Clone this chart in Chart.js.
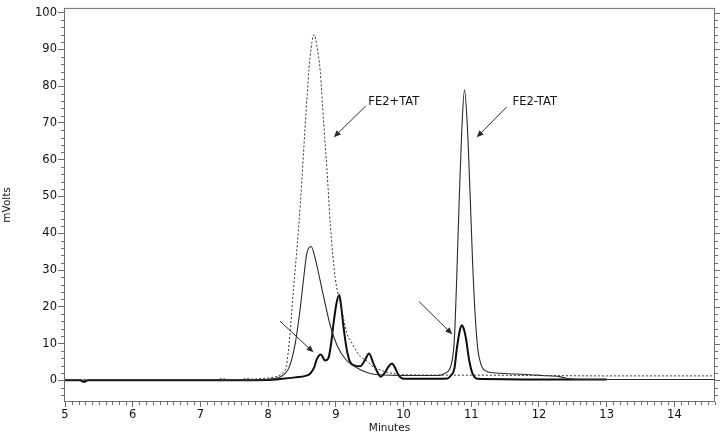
<!DOCTYPE html>
<html>
<head>
<meta charset="utf-8">
<script src="https://cdn.jsdelivr.net/npm/chart.js@4.4.1/dist/chart.umd.min.js"></script>
<style>
  html, body { margin: 0; padding: 0; background: #fff; }
  #wrap { width: 720px; height: 435px; }
</style>
</head>
<body>
<div id="wrap"><canvas id="chromChart" width="720" height="435"></canvas></div>
<script>
// Tick labels of the axes
const xTicks = [5, 6, 7, 8, 9, 10, 11, 12, 13, 14];
const yTicks = [0, 10, 20, 30, 40, 50, 60, 70, 80, 90, 100];

// FE2+TAT (dotted trace)
const timeDotted = [4.98, 6.0, 7.0, 7.25, 7.32, 7.4, 7.6, 7.68, 7.76, 7.9, 8.0, 8.1, 8.2, 8.27, 8.32, 8.37, 8.45, 8.5, 8.56, 8.62, 8.68, 8.72, 8.77, 8.82, 8.87, 8.92, 8.99, 9.09, 9.16, 9.24, 9.36, 9.44, 9.56, 9.63, 9.8, 10.05, 11.0, 12.0, 13.0, 14.6];
const valDotted = [0.2, 0.2, 0.2, 0.2, 0.5, 0.2, 0.2, 0.5, 0.3, 0.5, 0.6, 0.9, 1.8, 4, 12, 23.7, 41.5, 55, 73, 88, 94, 91, 84, 70, 57, 42, 28, 19, 13, 10, 6.5, 5.5, 3.5, 3, 2, 1.5, 1.4, 1.3, 1.2, 1.2];

// FE2-TAT (thin solid trace)
const timeThin = [4.98, 6.0, 7.0, 7.9, 8.0, 8.1, 8.25, 8.32, 8.4, 8.47, 8.52, 8.57, 8.635, 8.69, 8.77, 8.84, 8.92, 9.02, 9.14, 9.34, 9.63, 10.05, 10.5, 10.6, 10.7, 10.75, 10.78, 10.82, 10.86, 10.9, 10.94, 10.98, 11.02, 11.06, 11.1, 11.15, 11.2, 11.35, 11.55, 11.8, 12.05, 12.3, 12.45, 12.6, 14.6];
const valThin = [0, 0, 0, 0.1, 0.3, 0.5, 1.8, 4, 10, 19, 27, 34.4, 36.4, 33.5, 27, 21, 14.7, 9.4, 5.8, 3.1, 1.5, 1.3, 1.3, 1.8, 4, 11, 25, 48, 68, 79, 70, 52, 32, 17, 8, 4, 2.7, 2.0, 1.8, 1.6, 1.3, 1.0, 0.4, 0.2, 0.2];

// Sample (thick solid trace)
const timeThick = [4.98, 5.22, 5.28, 5.34, 6.0, 7.0, 8.0, 8.2, 8.4, 8.55, 8.62, 8.68, 8.72, 8.78, 8.84, 8.89, 8.93, 8.97, 9.01, 9.05, 9.08, 9.11, 9.16, 9.21, 9.28, 9.36, 9.43, 9.49, 9.56, 9.62, 9.66, 9.72, 9.78, 9.83, 9.88, 9.93, 10.0, 10.3, 10.65, 10.7, 10.75, 10.79, 10.83, 10.86, 10.89, 10.92, 10.97, 11.02, 11.09, 11.5, 12.0, 12.5, 13.0];
const valThick = [0, 0, -0.4, 0, 0, 0, 0.1, 0.4, 0.8, 1.2, 1.8, 3.5, 5.8, 7.0, 5.4, 6.0, 10, 16, 21, 23.2, 20, 15, 8.5, 5, 4, 3.8, 5.5, 7.3, 4.3, 2, 1.0, 2.0, 3.8, 4.6, 3.2, 1.3, 0.4, 0.4, 0.5, 1.3, 3.1, 9, 13.5, 15, 14, 11.6, 5.4, 1.8, 0.4, 0.3, 0.2, 0.2, 0.2];

// Annotations (data units): text, text anchor, arrow start, arrow end
const notes = [
  { text: "FE2+TAT", at: [9.48, 75.7], from: [9.44, 74.6], to: [8.97, 66.1] },
  { text: "FE2-TAT", at: [11.61, 75.7], from: [11.52, 74.3], to: [11.08, 66.1] },
  { text: "", from: [8.175, 16.1], to: [8.67, 7.6] },
  { text: "", from: [10.23, 21.4], to: [10.72, 12.5] }
];

function toPoints(xs, ys) {
  return xs.map((t, i) => ({ x: t, y: ys[i] }));
}

const FONT = "'DejaVu Sans', Verdana, sans-serif";

// Cadre, petites graduations et annotations
const decorPlugin = {
  id: "decor",
  afterDraw(chart) {
    const { ctx, chartArea: a, scales: { x, y } } = chart;
    ctx.save();
    ctx.strokeStyle = "#6e6e6e";
    ctx.lineWidth = 1;
    ctx.strokeRect(a.left + 0.5, a.top + 0.5, a.right - a.left - 1, a.bottom - a.top - 1);

    ctx.beginPath();
    // x minor ticks every 0.1
    for (let k = 50; k <= 146; k++) {
      if (k % 10 === 0) continue;
      const px = Math.round(x.getPixelForValue(k / 10)) + 0.5;
      ctx.moveTo(px, a.bottom);
      ctx.lineTo(px, a.bottom + 3);
    }
    // y minor ticks every 2, left and right
    for (let v = -4; v <= 100; v += 2) {
      const py = Math.round(y.getPixelForValue(v)) + 0.5;
      const len = v % 10 === 0 ? 5 : 3;
      if (v % 10 !== 0) {
        ctx.moveTo(a.left - 3, py);
        ctx.lineTo(a.left, py);
      }
      ctx.moveTo(a.right, py);
      ctx.lineTo(a.right + len, py);
    }
    ctx.stroke();

    // annotations
    ctx.strokeStyle = "#2a2a2a";
    ctx.font = "11.5px " + FONT;
    ctx.textBaseline = "middle";
    notes.forEach(n => {
      if (n.text) {
        ctx.fillStyle = "#111";
        ctx.fillText(n.text, x.getPixelForValue(n.at[0]), y.getPixelForValue(n.at[1]));
      }
      const x1 = x.getPixelForValue(n.from[0]), y1 = y.getPixelForValue(n.from[1]);
      const x2 = x.getPixelForValue(n.to[0]), y2 = y.getPixelForValue(n.to[1]);
      const ang = Math.atan2(y2 - y1, x2 - x1);
      ctx.beginPath();
      ctx.moveTo(x1, y1);
      ctx.lineTo(x2 - 4 * Math.cos(ang), y2 - 4 * Math.sin(ang));
      ctx.stroke();
      ctx.fillStyle = "#2a2a2a";
      ctx.beginPath();
      ctx.moveTo(x2, y2);
      ctx.lineTo(x2 - 7 * Math.cos(ang) + 3 * Math.sin(ang), y2 - 7 * Math.sin(ang) - 3 * Math.cos(ang));
      ctx.lineTo(x2 - 7 * Math.cos(ang) - 3 * Math.sin(ang), y2 - 7 * Math.sin(ang) + 3 * Math.cos(ang));
      ctx.closePath();
      ctx.fill();
    });
    ctx.restore();
  }
};

const lineBase = { pointRadius: 0, fill: false, cubicInterpolationMode: "monotone" };

const ctx = document.getElementById("chromChart").getContext("2d");
const chromChart = new Chart(ctx, {
  type: "line",
  data: {
    datasets: [
      Object.assign({ label: "FE2+TAT", data: toPoints(timeDotted, valDotted), borderColor: "#333", borderWidth: 1, borderDash: [2, 2] }, lineBase),
      Object.assign({ label: "FE2-TAT", data: toPoints(timeThin, valThin), borderColor: "#2a2a2a", borderWidth: 1.1 }, lineBase),
      Object.assign({ label: "Sample", data: toPoints(timeThick, valThick), borderColor: "#0d0d0d", borderWidth: 2 }, lineBase)
    ]
  },
  options: {
    responsive: false,
    animation: false,
    layout: { padding: { top: 2, right: 5, left: 0, bottom: 0 } },
    plugins: { legend: { display: false }, tooltip: { enabled: false } },
    scales: {
      x: {
        type: "linear",
        min: 4.985,
        max: 14.6,
        afterBuildTicks: s => { s.ticks = xTicks.map(v => ({ value: v })); },
        afterFit: s => { s.height = 33; },
        grid: { drawOnChartArea: false, drawTicks: true, tickLength: 5, color: "#6e6e6e" },
        border: { display: false },
        ticks: { font: { family: FONT, size: 11.5 }, color: "#111", padding: 1, maxRotation: 0 },
        title: { display: true, text: "Minutes", font: { family: FONT, size: 10.5 }, color: "#111", padding: { top: 0, bottom: 0 } }
      },
      y: {
        min: -5.9,
        max: 101.3,
        afterBuildTicks: s => { s.ticks = yTicks.map(v => ({ value: v })); },
        afterFit: s => { s.width = 64; },
        grid: { drawOnChartArea: false, drawTicks: true, tickLength: 6, color: "#6e6e6e" },
        border: { display: false },
        ticks: { font: { family: FONT, size: 11.5 }, color: "#111", padding: 1 },
        title: { display: true, text: "mVolts", font: { family: FONT, size: 10.5 }, color: "#111", padding: { top: 1, bottom: 0 } }
      }
    }
  },
  plugins: [decorPlugin]
});
</script>
</body>
</html>
